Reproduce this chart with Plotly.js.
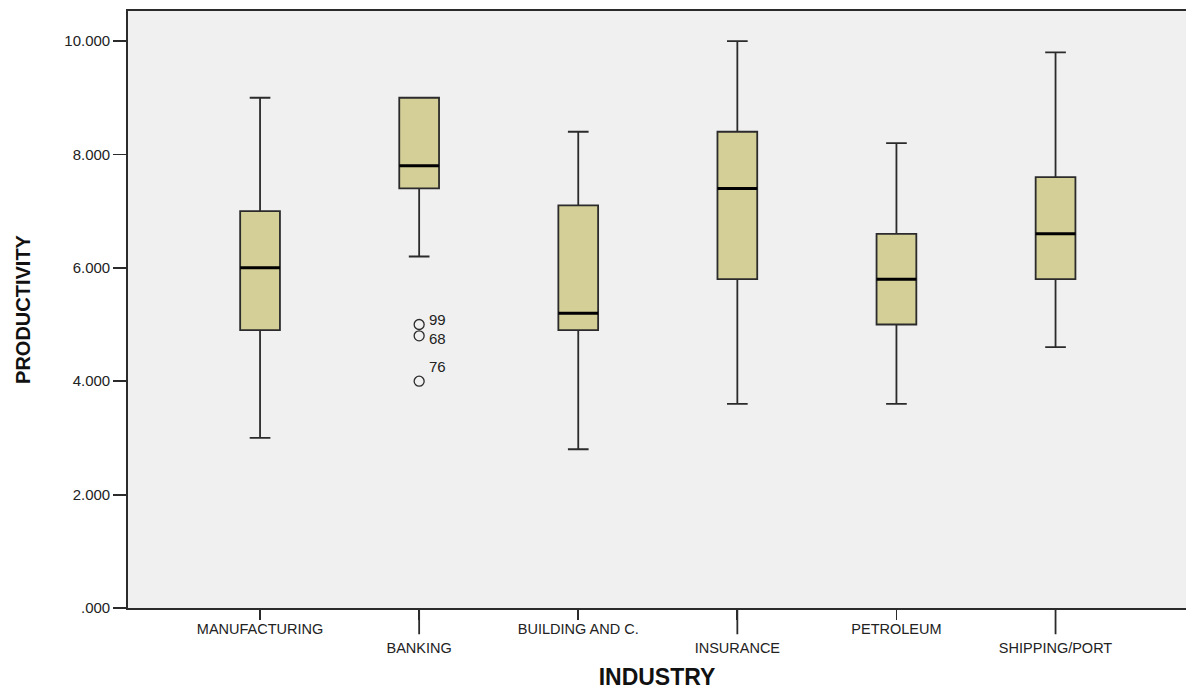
<!DOCTYPE html>
<html>
<head>
<meta charset="utf-8">
<script src="https://cdn.plot.ly/plotly-3.0.1.min.js"></script>
<style>html,body{margin:0;padding:0;background:#fff;}#chart{width:1186px;height:690px;}</style>
</head>
<body>
<div id="chart"></div>
<script>
// ---- data ----
const categories = ["MANUFACTURING", "BANKING", "BUILDING AND C.", "INSURANCE", "PETROLEUM", "SHIPPING/PORT"];
const lowerWhisker = [3.0, 6.2, 2.8, 3.6, 3.6, 4.6];
const q1Values     = [4.9, 7.4, 4.9, 5.8, 5.0, 5.8];
const medianValues = [6.0, 7.8, 5.2, 7.4, 5.8, 6.6];
const q3Values     = [7.0, 9.0, 7.1, 8.4, 6.6, 7.6];
const upperWhisker = [9.0, 9.0, 8.4, 10.0, 8.2, 9.8];
const outlierCategory = ["BANKING", "BANKING", "BANKING"];
const outlierValues   = [5.0, 4.8, 4.0];
const outlierLabels   = ["99", "68", "76"];
const yTickValues = [0, 2, 4, 6, 8, 10];
const yTickLabels = [".000", "2.000", "4.000", "6.000", "8.000", "10.000"];
const xAxisTitle = "INDUSTRY";
const yAxisTitle = "PRODUCTIVITY";

// ---- styling ----
const lineColor = "#2b2b2b";
const boxFill = "#d3cf97";
const font = "Liberation Sans, Arial, sans-serif";

const boxTrace = {
  type: "box",
  x: categories,
  q1: q1Values,
  median: medianValues,
  q3: q3Values,
  lowerfence: lowerWhisker,
  upperfence: upperWhisker,
  width: 0.25,
  whiskerwidth: 0.52,
  fillcolor: boxFill,
  line: {color: lineColor, width: 1.8},
  boxpoints: false,
  hoverinfo: "skip",
  showlegend: false
};

// thicker median line drawn as a degenerate box at the median
const medianTrace = {
  type: "box",
  x: categories,
  q1: medianValues,
  median: medianValues,
  q3: medianValues,
  lowerfence: medianValues,
  upperfence: medianValues,
  width: 0.25,
  whiskerwidth: 0,
  fillcolor: "rgba(0,0,0,0)",
  line: {color: "#000", width: 3},
  boxpoints: false,
  hoverinfo: "skip",
  showlegend: false
};

const outlierTrace = {
  type: "scatter",
  mode: "markers",
  x: outlierCategory,
  y: outlierValues,
  marker: {symbol: "circle-open", size: 10, color: lineColor, line: {width: 1.3, color: lineColor}},
  hoverinfo: "skip",
  showlegend: false,
  cliponaxis: false
};

// case-number labels next to the outliers
const labelShiftY = [5, -3, 15];
const outlierAnnotations = outlierLabels.map((t, i) => ({
  x: outlierCategory[i], y: outlierValues[i], xref: "x", yref: "y",
  text: t, showarrow: false, xanchor: "left", yanchor: "middle",
  xshift: 8, yshift: labelShiftY[i],
  font: {family: font, size: 15, color: "#222"}
}));

// staggered tick labels: every second label pushed down one line
const tickText = categories.map((c, i) => i % 2 === 1 ? "<br>" + c : c);

// longer tick marks for the staggered (lower) labels
const longTicks = categories.map((c, i) => i % 2 === 1 ? {
  type: "line", xref: "x", yref: "paper",
  x0: i, x1: i, y0: 0, y1: -0.044,
  line: {color: lineColor, width: 1.8}, layer: "above"
} : null).filter(Boolean);

const layout = {
  width: 1186, height: 690,
  margin: {l: 128, r: 0, t: 11, b: 82},
  paper_bgcolor: "#ffffff",
  plot_bgcolor: "#f0f0f0",
  boxmode: "overlay",
  showlegend: false,
  font: {family: font, color: "#222"},
  xaxis: {
    type: "category",
    range: [-0.83, 5.82],
    tickmode: "array",
    tickvals: categories,
    ticktext: tickText,
    ticks: "outside", ticklen: 10, tickwidth: 1.8, tickcolor: lineColor,
    ticklabelstandoff: -3,
    tickfont: {family: font, size: 14.5, color: "#222"},
    showline: true, linecolor: lineColor, linewidth: 1.8, mirror: true,
    showgrid: false, zeroline: false,
    title: {text: xAxisTitle, font: {family: font, size: 23, color: "#111", weight: "bold"}, standoff: 18}
  },
  yaxis: {
    range: [0, 10.53],
    tickmode: "array",
    tickvals: yTickValues,
    ticktext: yTickLabels,
    ticks: "outside", ticklen: 13, tickwidth: 1.8, tickcolor: lineColor,
    tickfont: {family: font, size: 15, color: "#222"},
    showline: true, linecolor: lineColor, linewidth: 1.8, mirror: false,
    showgrid: false, zeroline: false,
    title: {text: yAxisTitle, font: {family: font, size: 20, color: "#111", weight: "bold"}, standoff: 28}
  },
  shapes: longTicks,
  annotations: outlierAnnotations
};

Plotly.newPlot("chart", [boxTrace, medianTrace, outlierTrace], layout, {displayModeBar: false, staticPlot: true});
</script>
</body>
</html>
